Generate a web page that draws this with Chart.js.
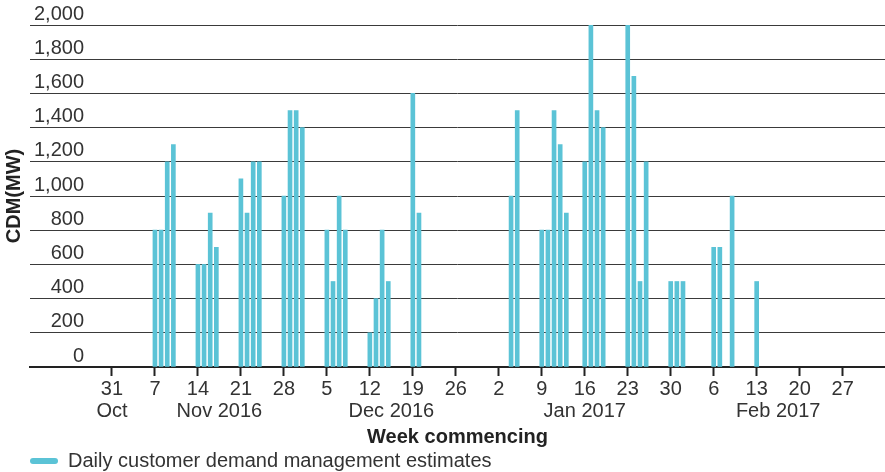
<!DOCTYPE html>
<html>
<head>
<meta charset="utf-8">
<script src="https://cdn.jsdelivr.net/npm/chart.js@4"></script>
<style>
  body { margin: 0; background: #fff; }
  canvas { display: block; }
</style>
</head>
<body>
<canvas id="cdmChart" width="885" height="472"></canvas>
<script>
// day 0 of the x axis
const originDate = '2016-10-31';

// daily CDM estimates (MW)
const barDates = [
    '2016-11-07', '2016-11-08', '2016-11-09', '2016-11-10',
    '2016-11-14', '2016-11-15', '2016-11-16', '2016-11-17',
    '2016-11-21', '2016-11-22', '2016-11-23', '2016-11-24',
    '2016-11-28', '2016-11-29', '2016-11-30', '2016-12-01',
    '2016-12-05', '2016-12-06', '2016-12-07', '2016-12-08',
    '2016-12-12', '2016-12-13', '2016-12-14', '2016-12-15',
    '2016-12-19', '2016-12-20',
    '2017-01-04', '2017-01-05',
    '2017-01-09', '2017-01-10', '2017-01-11', '2017-01-12', '2017-01-13',
    '2017-01-16', '2017-01-17', '2017-01-18', '2017-01-19',
    '2017-01-23', '2017-01-24', '2017-01-25', '2017-01-26',
    '2017-01-30', '2017-01-31', '2017-02-01',
    '2017-02-06', '2017-02-07', '2017-02-09',
    '2017-02-13'
];
const barValues = [
    800, 800, 1200, 1300,
    600, 600, 900, 700,
    1100, 900, 1200, 1200,
    1000, 1500, 1500, 1400,
    800, 500, 1000, 800,
    200, 400, 800, 500,
    1600, 900,
    1000, 1500,
    800, 800, 1500, 1300, 900,
    1200, 2000, 1500, 1400,
    2000, 1700, 500, 1200,
    500, 500, 500,
    700, 700, 1000,
    500
];

// week ticks
const tickDates = [
    '2016-10-31', '2016-11-07', '2016-11-14', '2016-11-21', '2016-11-28',
    '2016-12-05', '2016-12-12', '2016-12-19', '2016-12-26',
    '2017-01-02', '2017-01-09', '2017-01-16', '2017-01-23', '2017-01-30',
    '2017-02-06', '2017-02-13', '2017-02-20', '2017-02-27'
];
const tickLabels = ['31', '7', '14', '21', '28', '5', '12', '19', '26',
    '2', '9', '16', '23', '30', '6', '13', '20', '27'];

// month captions under the week numbers
const monthLabels = ['Oct', 'Nov 2016', 'Dec 2016', 'Jan 2017', 'Feb 2017'];
const monthDates = ['2016-10-31', '2016-11-17T12:00Z', '2016-12-15T12:00Z', '2017-01-16', '2017-02-16T12:00Z'];

const yTicks = [0, 200, 400, 600, 800, 1000, 1200, 1400, 1600, 1800, 2000];

const seriesLabel = 'Daily customer demand management estimates';

const dayOf = s => (Date.parse(s) - Date.parse(originDate)) / 864e5;

const barColor = '#5bc3d6';
const textColor = '#333';
const fontFamily = '"Liberation Sans", Arial, Helvetica, sans-serif';

const barPoints = barDates.map((d, i) => ({ x: dayOf(d), y: barValues[i] }));

new Chart(document.getElementById('cdmChart'), {
    type: 'bar',
    data: {
        datasets: [{
            label: seriesLabel,
            data: barPoints,
            backgroundColor: barColor,
            borderWidth: 0,
            barThickness: 4
        }]
    },
    options: {
        responsive: false,
        animation: false,
        devicePixelRatio: 1,
        layout: { padding: { top: 25, left: 0, right: 0, bottom: 0 } },
        scales: {
            x: {
                type: 'linear',
                position: 'bottom',
                weight: 0,
                offset: false,
                min: -13.35,
                max: 125.9,
                afterBuildTicks: scale => {
                    scale.ticks = tickDates.map(d => ({ value: dayOf(d) }));
                },
                afterFit: scale => { scale.height = 32; },
                grid: {
                    offset: false,
                    drawOnChartArea: false,
                    drawTicks: true,
                    tickLength: 9,
                    tickWidth: 2,
                    tickColor: '#222'
                },
                border: { display: true, color: '#222', width: 2 },
                ticks: {
                    autoSkip: false,
                    maxRotation: 0,
                    padding: 1,
                    color: textColor,
                    font: { family: fontFamily, size: 20 },
                    callback: (v, i) => tickLabels[i]
                }
            },
            xMonth: {
                type: 'linear',
                position: 'bottom',
                axis: 'x',
                weight: 1,
                offset: false,
                min: -13.35,
                max: 125.9,
                afterBuildTicks: scale => {
                    scale.ticks = monthDates.map(d => ({ value: dayOf(d) }));
                },
                afterFit: scale => { scale.height = 26; },
                grid: { display: false, drawTicks: false },
                border: { display: false },
                ticks: {
                    autoSkip: false,
                    maxRotation: 0,
                    padding: 0,
                    color: textColor,
                    font: { family: fontFamily, size: 20 },
                    callback: (v, i) => monthLabels[i]
                }
            },
            y: {
                min: 0,
                max: 2000,
                afterBuildTicks: scale => {
                    scale.ticks = yTicks.map(v => ({ value: v }));
                },
                afterFit: scale => { scale.width = 30; },
                grid: { color: '#3a3a3a', lineWidth: 1, drawTicks: false },
                border: { display: false },
                title: {
                    display: true,
                    text: 'CDM(MW)',
                    color: '#222',
                    padding: { top: 2, bottom: 0 },
                    font: { family: fontFamily, size: 20, weight: 'bold' }
                },
                ticks: {
                    mirror: true,
                    crossAlign: 'far',
                    padding: 4,
                    labelOffset: -11,
                    color: textColor,
                    font: { family: fontFamily, size: 20 },
                    callback: v => v.toLocaleString('en-US')
                }
            }
        },
        plugins: {
            title: {
                display: true,
                text: 'Week commencing',
                position: 'bottom',
                fullSize: false,
                weight: 500,
                color: '#222',
                padding: { top: 0, bottom: 2 },
                font: { family: fontFamily, size: 20, weight: 'bold' }
            },
            legend: {
                position: 'bottom',
                align: 'start',
                fullSize: false,
                maxHeight: 21,
                labels: {
                    boxWidth: 28,
                    boxHeight: 6,
                    padding: 0,
                    useBorderRadius: true,
                    borderRadius: 3,
                    color: textColor,
                    font: { family: fontFamily, size: 20 }
                }
            },
            tooltip: { enabled: false }
        }
    }
});
</script>
</body>
</html>
